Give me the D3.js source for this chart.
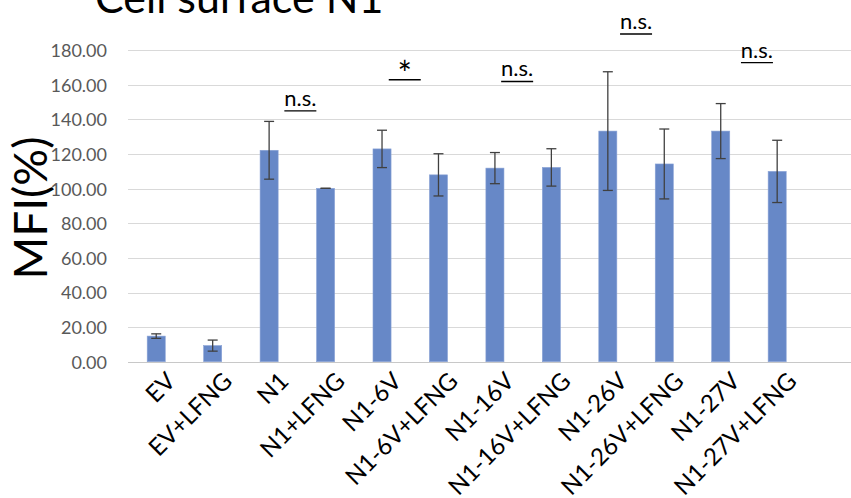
<!DOCTYPE html>
<html>
<head>
<meta charset="utf-8">
<script src="https://cdn.jsdelivr.net/npm/d3@7/dist/d3.min.js"></script>
<style>
  html, body { margin: 0; padding: 0; background: #fff; }
  svg { display: block; }
  text { font-family: Lato, "Open Sans", sans-serif; }
</style>
</head>
<body>
<svg id="chart" width="851" height="498"></svg>
<script>
// ---- data ----
const categories = ["EV", "EV+LFNG", "N1", "N1+LFNG", "N1-6V", "N1-6V+LFNG",
  "N1-16V", "N1-16V+LFNG", "N1-26V", "N1-26V+LFNG", "N1-27V", "N1-27V+LFNG"];
const means  = [14.8, 9.3, 122.2, 100.2, 123.0, 108.0, 111.9, 112.3, 133.3, 114.3, 133.3, 110.0];
const errors = [1.3, 3.2, 16.7, 0.0, 10.8, 12.2, 9.0, 10.8, 34.3, 20.2, 15.9, 18.0];
const yTicks = [0, 20, 40, 60, 80, 100, 120, 140, 160, 180];
const sigLabels = ["n.s.", "*", "n.s.", "n.s.", "n.s."];
const sigPairs  = [[2, 3], [4, 5], [6, 7], [8, 9], [10, 11]];
const sigLevels = [145.0, 163.0, 162.0, 189.4, 172.9];
const titleText = "Cell surface N1";
const yTitle = "MFI(%)";

// ---- layout ----
const W = 851, H = 498;
const plot = { left: 128, right: 805.4, gridRight: 851, top: 50.3, bottom: 361.7 };
const sigShift = [3, -5.5, -6, 0, 8]; // px nudges of the annotation centres

const svg = d3.select("#chart");

const x = d3.scaleBand().domain(categories)
  .range([plot.left, plot.right]).paddingInner(0.68).paddingOuter(0.34);
const y = d3.scaleLinear().domain([0, 180]).range([plot.bottom, plot.top]);

// gridlines
svg.append("g").selectAll("line").data(yTicks).join("line")
  .attr("x1", plot.left).attr("x2", plot.gridRight)
  .attr("y1", d => Math.round(y(d)) + 0.5).attr("y2", d => Math.round(y(d)) + 0.5)
  .attr("stroke", d => d === 0 ? "#c8c8c8" : "#d9d9d9").attr("stroke-width", 1.2);

// y axis tick labels
const yAxis = d3.axisLeft(y).tickValues(yTicks).tickFormat(d3.format(".2f")).tickSize(0).tickPadding(0);
const gy = svg.append("g").attr("transform", "translate(107,0)").call(yAxis);
gy.select(".domain").remove();
gy.selectAll("text").attr("fill", "#595959").style("font-size", "18px")
  .style("font-family", "Lato, sans-serif").attr("dy", "0.36em");

// bars
svg.append("g").selectAll("rect").data(means).join("rect")
  .attr("x", (d, i) => x(categories[i]))
  .attr("width", x.bandwidth())
  .attr("y", d => y(d))
  .attr("height", d => y(0) - y(d))
  .attr("fill", "#6788c7")
  .attr("stroke", "#8aa3d6").attr("stroke-width", 0.6);

// error bars
const eg = svg.append("g").attr("stroke", "#404040").attr("stroke-width", 1.3);
means.forEach((m, i) => {
  const cx = x(categories[i]) + x.bandwidth() / 2;
  const e = errors[i];
  const cap = 5;
  eg.append("line").attr("x1", cx).attr("x2", cx).attr("y1", y(m + e)).attr("y2", y(m - e));
  eg.append("line").attr("x1", cx - cap).attr("x2", cx + cap).attr("y1", y(m + e)).attr("y2", y(m + e));
  eg.append("line").attr("x1", cx - cap).attr("x2", cx + cap).attr("y1", y(m - e)).attr("y2", y(m - e));
});

// x labels (rotated)
svg.append("g").selectAll("text").data(categories).join("text")
  .attr("transform", d => `translate(${x(d) + x.bandwidth() / 2 + 9},${plot.bottom + 9}) rotate(-45)`)
  .attr("text-anchor", "end").attr("dy", "0.7em")
  .style("font-size", "24px").attr("fill", "#000")
  .text(d => d);

// significance annotations
const sg = svg.append("g");
sigLabels.forEach((lab, k) => {
  const [a, b] = sigPairs[k];
  const cx = (x(categories[a]) + x(categories[b]) + x.bandwidth()) / 2 + sigShift[k];
  const ly = y(sigLevels[k]);
  sg.append("line").attr("x1", cx - 16).attr("x2", cx + 16).attr("y1", ly).attr("y2", ly)
    .attr("stroke", "#000").attr("stroke-width", 1.4);
  sg.append("text").attr("x", cx).attr("y", lab === "*" ? ly + 6 : ly - 5)
    .attr("text-anchor", "middle").style("font-size", lab === "*" ? "34px" : "22px")
    .attr("fill", "#000").text(lab);
});

// title (cut off at top, as in the reference)
svg.append("text").attr("x", 95).attr("y", 13).style("font-size", "43px")
  .attr("fill", "#000").text(titleText);

// y title
svg.append("text").attr("transform", "translate(47,208) rotate(-90)")
  .attr("text-anchor", "middle").style("font-size", "46px").attr("fill", "#000")
  .text(yTitle);
</script>
</body>
</html>
